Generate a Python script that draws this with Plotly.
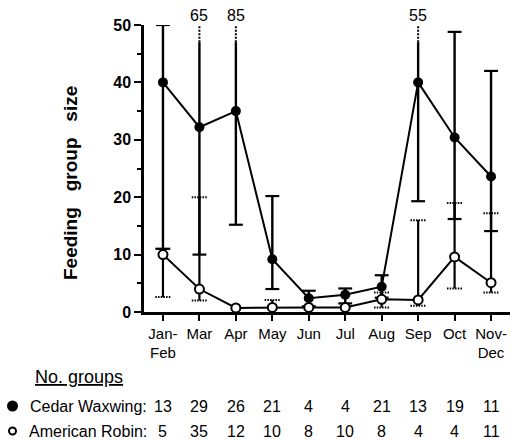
import plotly.graph_objects as go

# ---------------- data ----------------
categories = ["Jan-<br>Feb", "Mar", "Apr", "May", "Jun", "Jul", "Aug", "Sep", "Oct", "Nov-<br>Dec"]
wax_mean = [40, 32.2, 35, 9.2, 2.4, 3.0, 4.4, 40, 30.4, 23.6]
wax_hi = [50, 65, 85, 20.2, 3.7, 4.1, 6.4, 55, 48.8, 42]
wax_lo = [11, 10, 15.2, 4.0, 1.0, 1.5, 2.5, 19.3, 16.2, 14.1]
robin_mean = [10, 4.0, 0.7, 0.8, 0.8, 0.8, 2.2, 2.1, 9.6, 5.1]
robin_hi = [11, 20, None, 2.1, None, None, 3.4, 16, 19, 17.2]
robin_lo = [2.6, 2.0, None, None, None, None, 0.8, 1.1, 4.1, 3.4]
wax_groups = [13, 29, 26, 21, 4, 4, 21, 13, 19, 11]
robin_groups = [5, 35, 12, 10, 8, 10, 8, 4, 4, 11]

# ---------------- style constants ----------------
FONT = "Liberation Sans, Arial, Helvetica, sans-serif"
YMAX = 50
BREAK = 47          # where truncated bars turn dotted
TOP = 50.4
CAP = 0.19          # half-width of caps in category units
W, H = 512, 440
ML, MR, MT, MB = 144, 2, 25, 128
PW, PH = W - ML - MR, H - MT - MB

def px_x(px):
    return (px - ML) / PW

def px_y(py):
    return (H - MB - py) / PH

xs = list(range(len(categories)))

fig = go.Figure()

# ---- Cedar Waxwing error bars ----
stem_x, stem_y, dot_x, dot_y, cap_x, cap_y = [], [], [], [], [], []
for i, (lo, hi) in enumerate(zip(wax_lo, wax_hi)):
    top = hi if hi <= YMAX else BREAK
    stem_x += [i, i, None]
    stem_y += [lo, top, None]
    if hi > YMAX:
        dot_x += [i, i, None]
        dot_y += [BREAK, TOP, None]
    else:
        cap_x += [i - CAP, i + CAP, None]
        cap_y += [hi, hi, None]
    cap_x += [i - CAP, i + CAP, None]
    cap_y += [lo, lo, None]

fig.add_trace(go.Scatter(x=stem_x, y=stem_y, mode="lines", line=dict(color="black", width=2.4),
                         hoverinfo="skip", showlegend=False, cliponaxis=False))
fig.add_trace(go.Scatter(x=cap_x, y=cap_y, mode="lines", line=dict(color="black", width=2.2),
                         hoverinfo="skip", showlegend=False, cliponaxis=False))
fig.add_trace(go.Scatter(x=dot_x, y=dot_y, mode="lines", line=dict(color="black", width=2, dash="2px,1.5px"),
                         hoverinfo="skip", showlegend=False, cliponaxis=False))

# ---- American Robin error bars ----
rs_x, rs_y, rc_x, rc_y = [], [], [], []
for i, (lo, hi, m) in enumerate(zip(robin_lo, robin_hi, robin_mean)):
    a = lo if lo is not None else m
    b = hi if hi is not None else m
    if a != b:
        rs_x += [i, i, None]
        rs_y += [a, b, None]
    for v in (lo, hi):
        if v is not None:
            rc_x += [i - CAP - 0.02, i + CAP + 0.02, None]
            rc_y += [v, v, None]

fig.add_trace(go.Scatter(x=rs_x, y=rs_y, mode="lines", line=dict(color="black", width=2.2),
                         hoverinfo="skip", showlegend=False, cliponaxis=False))
fig.add_trace(go.Scatter(x=rc_x, y=rc_y, mode="lines", line=dict(color="black", width=2, dash="1.5px,1.2px"),
                         hoverinfo="skip", showlegend=False, cliponaxis=False))

# ---- mean lines ----
fig.add_trace(go.Scatter(x=xs, y=robin_mean, mode="lines+markers", name="American Robin",
                         line=dict(color="black", width=2),
                         marker=dict(symbol="circle", size=9, color="white", line=dict(color="black", width=2)),
                         showlegend=False, cliponaxis=False))
fig.add_trace(go.Scatter(x=xs, y=wax_mean, mode="lines+markers", name="Cedar Waxwing",
                         line=dict(color="black", width=2),
                         marker=dict(symbol="circle", size=10, color="black"),
                         showlegend=False, cliponaxis=False))

# ---- truncated value labels ----
annotations = []
for i, hi in enumerate(wax_hi):
    if hi > YMAX:
        annotations.append(dict(x=i, y=px_y(15), xref="x", yref="paper", text=str(hi), showarrow=False,
                                xanchor="center", yanchor="middle",
                                font=dict(family=FONT, size=16, color="black")))

# ---- axis title ----
annotations.append(dict(x=px_x(71), y=px_y(183), xref="paper", yref="paper",
                        text="Feeding\u00a0\u00a0\u00a0group\u00a0\u00a0\u00a0size", textangle=-90,
                        showarrow=False, xanchor="center", yanchor="middle",
                        font=dict(family=FONT, size=19, color="black", weight="bold")))

# ---- No. groups table ----
annotations.append(dict(x=px_x(33), y=px_y(377), xref="paper", yref="paper", text="<u>No. groups</u>",
                        showarrow=False, xanchor="left", yanchor="middle",
                        font=dict(family=FONT, size=18, color="black")))
shapes = []
rows = [(True, "Cedar Waxwing:", wax_groups, 406),
        (False, "American Robin:", robin_groups, 431)]
for filled, label, vals, py in rows:
    d = 9 if filled else 7
    shapes.append(dict(type="circle", xref="paper", yref="paper", xsizemode="pixel", ysizemode="pixel",
                       xanchor=px_x(12.5), yanchor=px_y(py), x0=-d / 2, x1=d / 2, y0=-d / 2, y1=d / 2,
                       fillcolor="black" if filled else "white", line=dict(color="black", width=2)))
    annotations.append(dict(x=px_x(149), y=px_y(py), xref="paper", yref="paper", text=label,
                            showarrow=False, xanchor="right", yanchor="middle",
                            font=dict(family=FONT, size=16, color="black")))
    for i, v in enumerate(vals):
        annotations.append(dict(x=i, y=px_y(py), xref="x", yref="paper", text=str(v),
                                showarrow=False, xanchor="center", yanchor="middle",
                                font=dict(family=FONT, size=16, color="black")))

fig.update_layout(
    width=W, height=H,
    margin=dict(l=ML, r=MR, t=MT, b=MB, pad=0),
    paper_bgcolor="white", plot_bgcolor="white",
    font=dict(family=FONT, color="black"),
    annotations=annotations,
    shapes=shapes,
    showlegend=False,
    xaxis=dict(range=[-0.52, len(categories) - 1 + 0.52], tickmode="array", tickvals=xs, ticktext=categories,
               ticks="outside", ticklen=6, tickwidth=2, tickcolor="black",
               showline=True, linewidth=2.5, linecolor="black", showgrid=False, zeroline=False,
               tickfont=dict(family=FONT, size=15, color="black")),
    yaxis=dict(range=[0, YMAX], tickvals=[0, 10, 20, 30, 40, 50],
               ticks="outside", ticklen=7, tickwidth=2, tickcolor="black",
               minor=dict(dtick=5, ticks="outside", ticklen=4, tickwidth=2, tickcolor="black"),
               showline=True, linewidth=2.5, linecolor="black", showgrid=False, zeroline=False,
               tickfont=dict(family=FONT, size=16, color="black", weight="bold")),
)

fig.write_html("out.html")
